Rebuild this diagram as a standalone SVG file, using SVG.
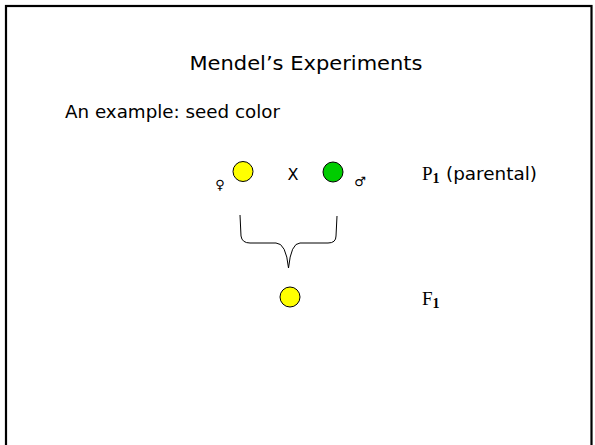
<svg xmlns="http://www.w3.org/2000/svg" width="595" height="445" viewBox="0 0 595 445">
<style>
.c{font-family:"DejaVu Sans","Liberation Sans",sans-serif;fill:#000}
.s{font-family:"Liberation Serif","DejaVu Serif",serif;fill:#000}
.seed{stroke:#000;stroke-width:1}
</style>
<rect x="0" y="0" width="595" height="445" fill="#fff"/>
<rect x="6" y="6" width="585.5" height="460" fill="none" stroke="#000" stroke-width="2.2"/>
<g id="title"><text class="c" x="306" y="70" font-size="20" text-anchor="middle" textLength="233" lengthAdjust="spacingAndGlyphs">Mendel’s Experiments</text></g>
<g id="subtitle"><text class="c" x="65" y="118" font-size="17" textLength="215" lengthAdjust="spacingAndGlyphs">An example:  seed color</text></g>
<g id="female">
<text class="c" x="220" y="189" font-size="13" text-anchor="middle">♀</text>
<circle class="seed" cx="243" cy="171.5" r="10" fill="#ffff00"/>
</g>
<g id="cross"><text class="c" x="293" y="180" font-size="16" text-anchor="middle">X</text></g>
<g id="male">
<circle class="seed" cx="333" cy="172" r="10" fill="#00cc00"/>
<text class="c" x="360" y="186" font-size="13" text-anchor="middle">♂</text>
</g>
<g id="p1label">
<text class="s" x="422" y="180" font-size="19">P<tspan font-size="14" dy="3" font-weight="bold">1</tspan></text>
<text class="c" x="446" y="180" font-size="17" textLength="91" lengthAdjust="spacingAndGlyphs">(parental)</text>
</g>
<g id="connectors">
<path d="M240,215 L241,236 Q242,243 250,243 L276,243 Q286,243 288.5,268 Q291,243 300,243 L328,243 Q336,243 336,236 L337,216" fill="none" stroke="#000" stroke-width="1"/>
</g>
<g id="f1seed"><circle class="seed" cx="290" cy="297" r="10" fill="#ffff00"/></g>
<g id="f1label"><text class="s" x="422" y="305" font-size="19">F<tspan font-size="14" dy="3" font-weight="bold">1</tspan></text></g>
</svg>
